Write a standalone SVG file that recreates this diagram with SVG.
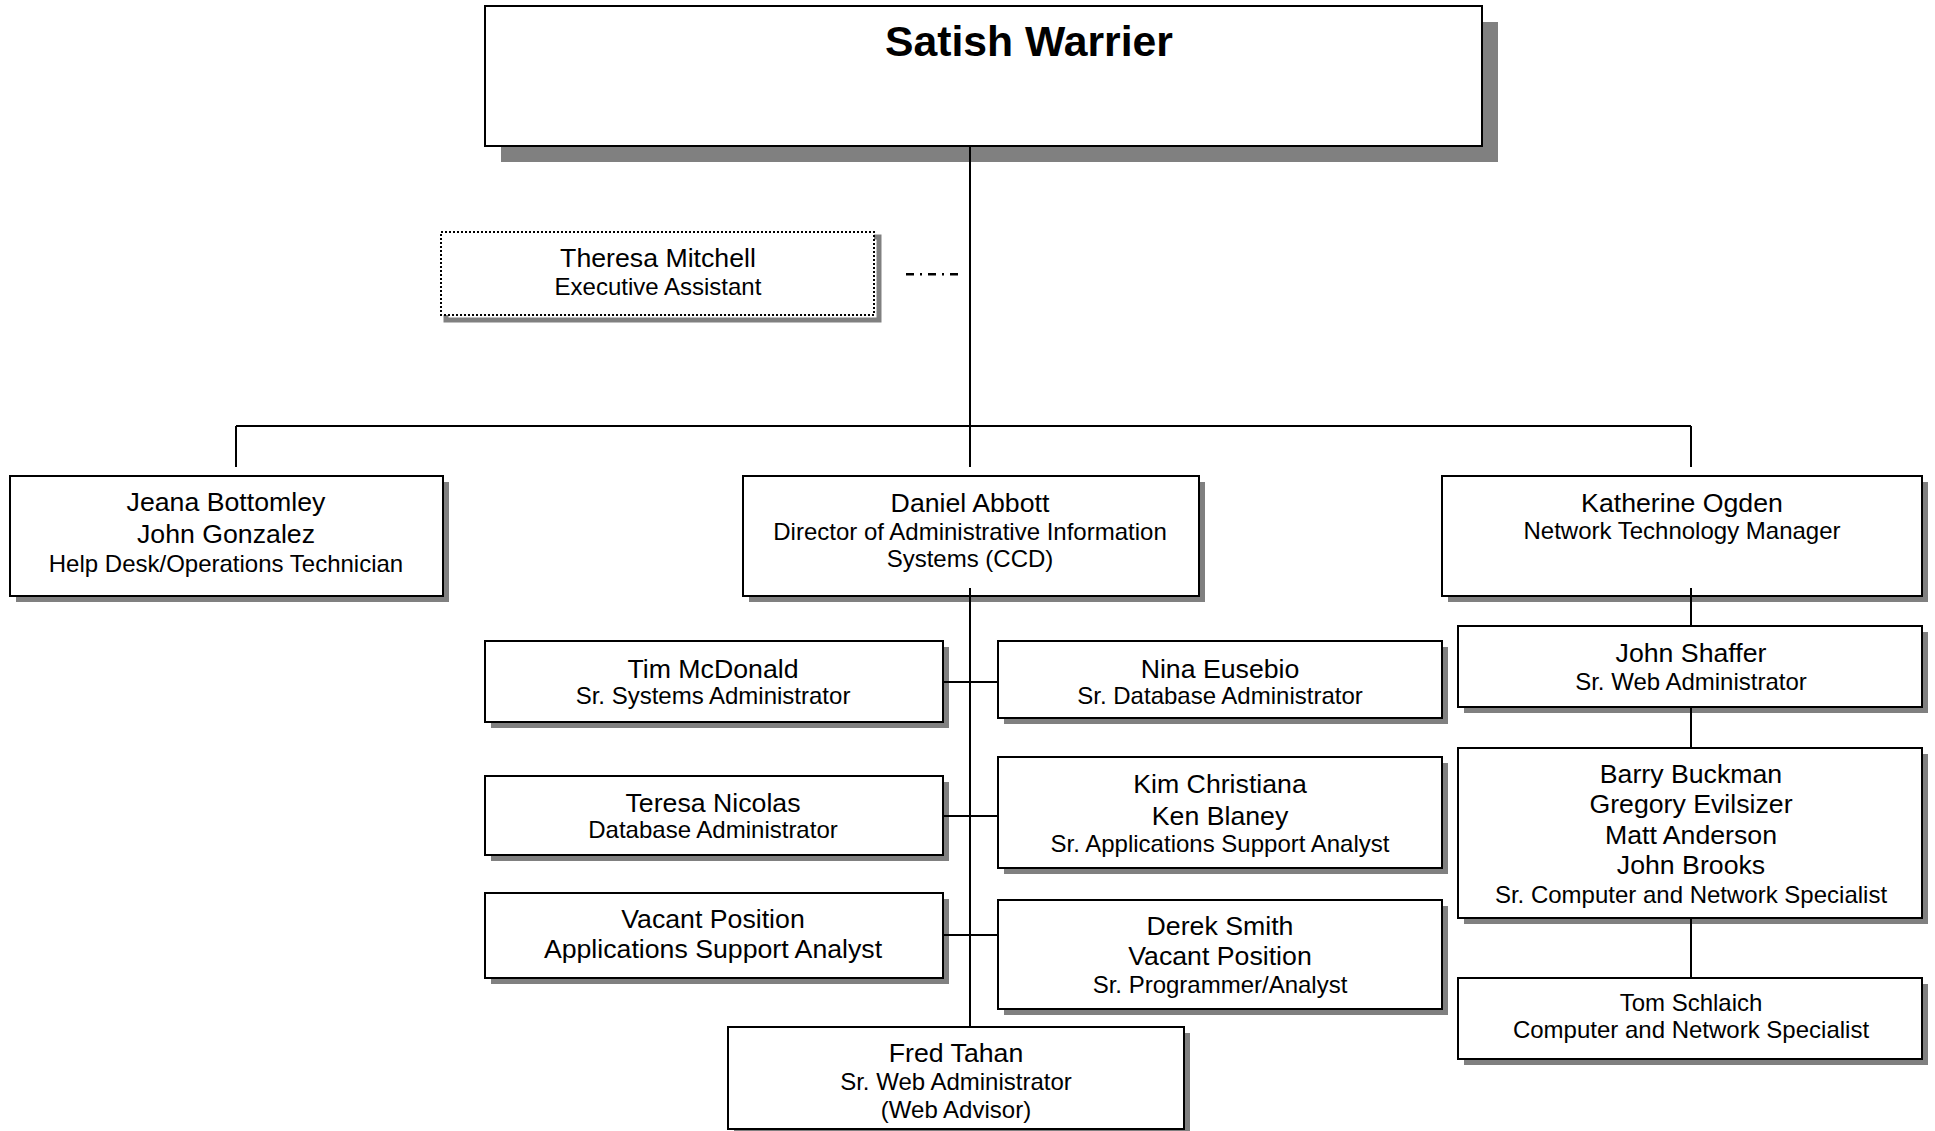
<svg xmlns="http://www.w3.org/2000/svg" width="1935" height="1131" viewBox="0 0 1935 1131">
<style>
text{font-family:"Liberation Sans",Arial,sans-serif;fill:#000;text-anchor:middle}
.n{font-size:26.7px}
.t{font-size:24px}
.box{fill:#fff;stroke:#000;stroke-width:2}
.sh{fill:#808080}
.ln{stroke:#000;stroke-width:2;fill:none}
</style>
<rect width="1935" height="1131" fill="#fff"/>
<g id="satish">
<rect class="sh" x="501" y="22" width="997" height="140"/>
<rect class="box" x="485" y="6" width="997" height="140"/>
<text x="1029" y="56" style="font-size:42.7px;font-weight:bold">Satish Warrier</text>
</g>
<g id="theresa">
<rect x="446" y="237" width="433" height="83" fill="none" stroke="#808080" stroke-width="5"/>
<rect x="441" y="232" width="433" height="83" fill="#fff" stroke="#000" stroke-width="2" stroke-dasharray="2 2"/>
<text class="n" x="658" y="267">Theresa Mitchell</text>
<text class="t" x="658" y="295">Executive Assistant</text>
</g>
<g id="jeana">
<rect class="sh" x="16" y="482" width="433" height="120"/>
<rect class="box" x="10" y="476" width="433" height="120"/>
<text class="n" x="226" y="511">Jeana Bottomley</text>
<text class="n" x="226" y="543">John Gonzalez</text>
<text class="t" x="226" y="572">Help Desk/Operations Technician</text>
</g>
<g id="daniel">
<rect class="sh" x="749" y="482" width="456" height="120"/>
<rect class="box" x="743" y="476" width="456" height="120"/>
<text class="n" x="970" y="512">Daniel Abbott</text>
<text class="t" x="970" y="540">Director of Administrative Information</text>
<text class="t" x="970" y="567">Systems (CCD)</text>
</g>
<g id="katherine">
<rect class="sh" x="1448" y="482" width="480" height="120"/>
<rect class="box" x="1442" y="476" width="480" height="120"/>
<text class="n" x="1682" y="512">Katherine Ogden</text>
<text class="t" x="1682" y="539">Network Technology Manager</text>
</g>
<g id="shaffer">
<rect class="sh" x="1464" y="632" width="464" height="81"/>
<rect class="box" x="1458" y="626" width="464" height="81"/>
<text class="n" x="1691" y="662">John Shaffer</text>
<text class="t" x="1691" y="690">Sr. Web Administrator</text>
</g>
<g id="barry">
<rect class="sh" x="1464" y="754" width="464" height="170"/>
<rect class="box" x="1458" y="748" width="464" height="170"/>
<text class="n" x="1691" y="783">Barry Buckman</text>
<text class="n" x="1691" y="813">Gregory Evilsizer</text>
<text class="n" x="1691" y="844">Matt Anderson</text>
<text class="n" x="1691" y="874">John Brooks</text>
<text class="t" x="1691" y="903">Sr. Computer and Network Specialist</text>
</g>
<g id="tom">
<rect class="sh" x="1464" y="984" width="464" height="81"/>
<rect class="box" x="1458" y="978" width="464" height="81"/>
<text class="t" x="1691" y="1011">Tom Schlaich</text>
<text class="t" x="1691" y="1038">Computer and Network Specialist</text>
</g>
<g id="tim">
<rect class="sh" x="491" y="647" width="458" height="81"/>
<rect class="box" x="485" y="641" width="458" height="81"/>
<text class="n" x="713" y="678">Tim McDonald</text>
<text class="t" x="713" y="704">Sr. Systems Administrator</text>
</g>
<g id="nina">
<rect class="sh" x="1004" y="647" width="444" height="77"/>
<rect class="box" x="998" y="641" width="444" height="77"/>
<text class="n" x="1220" y="678">Nina Eusebio</text>
<text class="t" x="1220" y="704">Sr. Database Administrator</text>
</g>
<g id="teresa">
<rect class="sh" x="491" y="782" width="458" height="79"/>
<rect class="box" x="485" y="776" width="458" height="79"/>
<text class="n" x="713" y="812">Teresa Nicolas</text>
<text class="t" x="713" y="838">Database Administrator</text>
</g>
<g id="kim">
<rect class="sh" x="1004" y="763" width="444" height="111"/>
<rect class="box" x="998" y="757" width="444" height="111"/>
<text class="n" x="1220" y="793">Kim Christiana</text>
<text class="n" x="1220" y="825">Ken Blaney</text>
<text class="t" x="1220" y="852">Sr. Applications Support Analyst</text>
</g>
<g id="vacant">
<rect class="sh" x="491" y="899" width="458" height="85"/>
<rect class="box" x="485" y="893" width="458" height="85"/>
<text class="n" x="713" y="928">Vacant Position</text>
<text class="n" x="713" y="958">Applications Support Analyst</text>
</g>
<g id="derek">
<rect class="sh" x="1004" y="906" width="444" height="109"/>
<rect class="box" x="998" y="900" width="444" height="109"/>
<text class="n" x="1220" y="935">Derek Smith</text>
<text class="n" x="1220" y="965">Vacant Position</text>
<text class="t" x="1220" y="993">Sr. Programmer/Analyst</text>
</g>
<g id="fred">
<rect class="sh" x="734" y="1033" width="456" height="102"/>
<rect class="box" x="728" y="1027" width="456" height="102"/>
<text class="n" x="956" y="1062">Fred Tahan</text>
<text class="t" x="956" y="1090">Sr. Web Administrator</text>
<text class="t" x="956" y="1118">(Web Advisor)</text>
</g>
<g id="connectors">
<path class="ln" d="M970 146V467M236 426H1691M236 426V467M1691 426V467"/>
<path class="ln" d="M970 588V1027M942 682H998M942 816H998M942 935H998"/>
<path class="ln" d="M1691 588V626M1691 707V748M1691 918V978"/>
<path d="M906 275H958" stroke="#808080" stroke-width="2" stroke-dasharray="8 6 2 6" fill="none"/>
<path d="M906 274H958" stroke="#000" stroke-width="2" stroke-dasharray="8 6 2 6" fill="none"/>
</g>
</svg>
